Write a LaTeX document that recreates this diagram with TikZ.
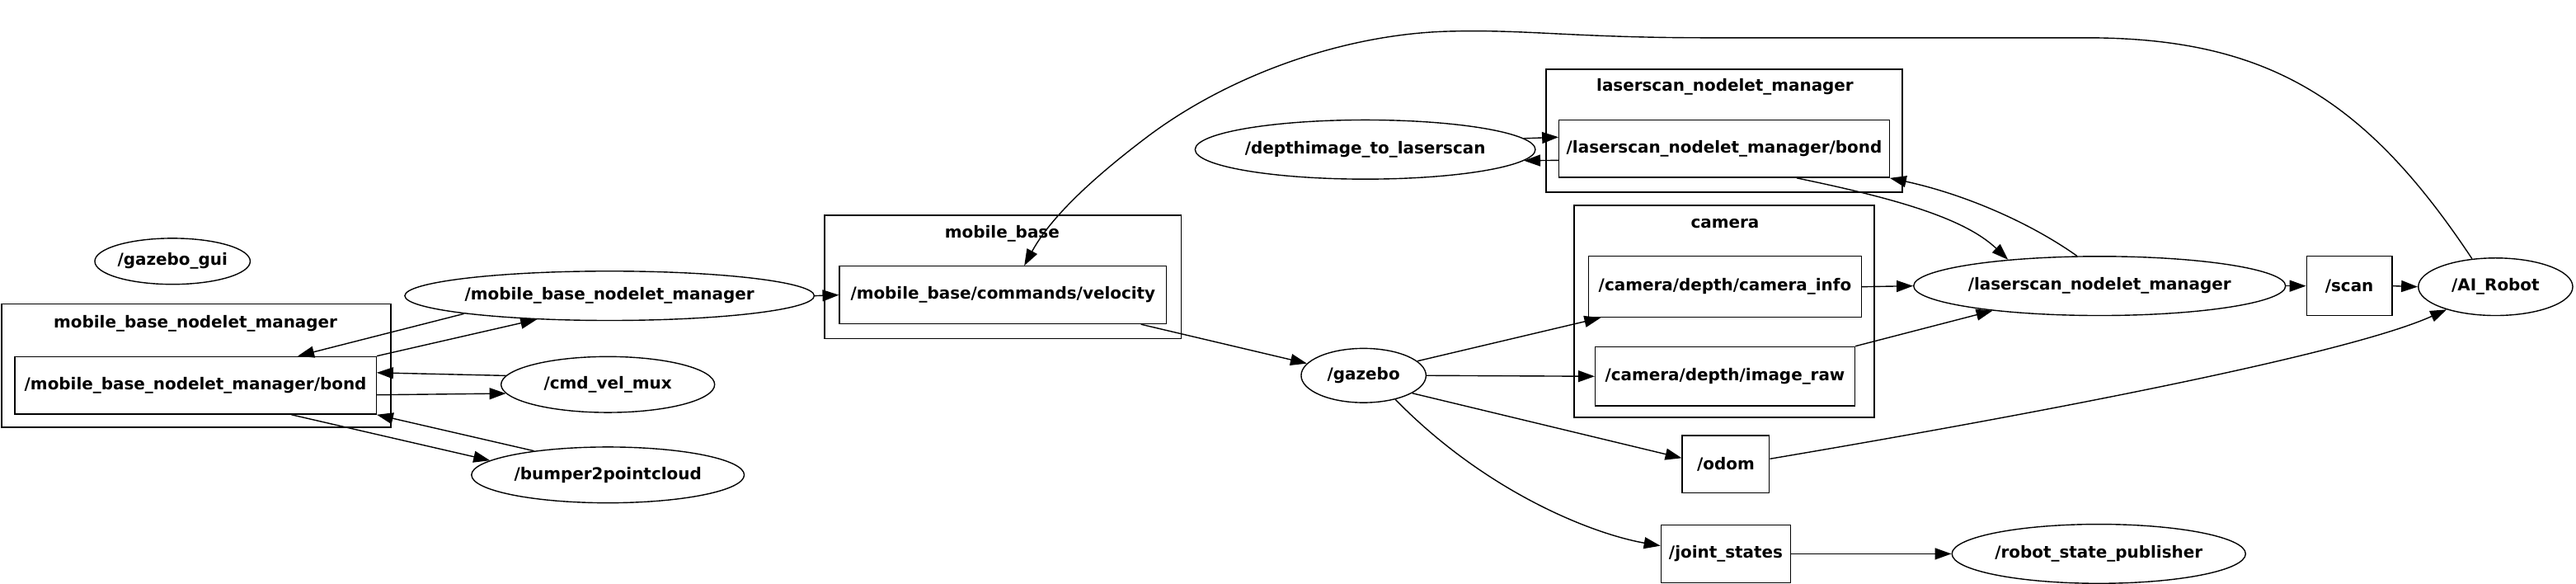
\documentclass[tikz,border=0pt]{standalone}
\usepackage{fontspec}
\setmainfont{DejaVu Sans}
\usetikzlibrary{arrows.meta,shapes.geometric}

\begin{document}
\begin{tikzpicture}[x=1pt,y=-1pt,>={Triangle[length=10pt,width=7pt]},
    font=\bfseries\fontsize{10}{12}\selectfont,
    rosnode/.style={draw,ellipse,line width=0.7pt,inner sep=0pt},
    rostopic/.style={draw,rectangle,line width=0.7pt,inner sep=0pt},
    rosgroup/.style={draw,rectangle,line width=0.9pt,inner sep=0pt},
    link/.style={->,line width=0.7pt}]
    \useasboundingbox (0,0) rectangle (1568,355);
    % groups
    \node[rosgroup,minimum width=237pt,minimum height=75pt] (mbnmgroup) at (119.5,222.5) {};
    \node (mbnmlabel) at (119,197) {mobile\_base\_nodelet\_manager};
    \node[rosgroup,minimum width=217pt,minimum height=75pt] (mbgroup) at (610.5,168.5) {};
    \node (mblabel) at (610,142) {mobile\_base};
    \node[rosgroup,minimum width=217pt,minimum height=75pt] (lsgroup) at (1049.5,79.5) {};
    \node (lslabel) at (1050,53) {laserscan\_nodelet\_manager};
    \node[rosgroup,minimum width=183pt,minimum height=129pt] (camgroup) at (1049.5,189.5) {};
    \node (camlabel) at (1050,136) {camera};
    % nodes and topics
    \node[rosnode,minimum width=80pt,minimum height=28pt] (gazebogui) at (105,159) {/gazebo\_gui};
    \node[rostopic,minimum width=220pt,minimum height=35pt] (mbnmbond) at (119,234.5) {/mobile\_base\_nodelet\_manager/bond};
    \node[rosnode,minimum width=248pt,minimum height=30pt] (mbnm) at (371,180) {/mobile\_base\_nodelet\_manager};
    \node[rosnode,minimum width=130pt,minimum height=34pt] (cmdvelmux) at (370,234) {/cmd\_vel\_mux};
    \node[rosnode,minimum width=166pt,minimum height=34pt] (bumper) at (370,289) {/bumper2pointcloud};
    \node[rostopic,minimum width=199pt,minimum height=35pt] (velocity) at (610.5,179.5) {/mobile\_base/commands/velocity};
    \node[rosnode,minimum width=76pt,minimum height=33pt] (gazebo) at (830,228.5) {/gazebo};
    \node[rosnode,minimum width=206pt,minimum height=36pt] (depthimg) at (831,91) {/depthimage\_to\_laserscan};
    \node[rostopic,minimum width=201pt,minimum height=35pt] (lsbond) at (1049.5,90.5) {/laserscan\_nodelet\_manager/bond};
    \node[rostopic,minimum width=166pt,minimum height=37pt] (caminfo) at (1050,174.5) {/camera/depth/camera\_info};
    \node[rostopic,minimum width=158pt,minimum height=36pt] (imageraw) at (1050,229) {/camera/depth/image\_raw};
    \node[rosnode,minimum width=220pt,minimum height=36pt] (lsnm) at (1278,174) {/laserscan\_nodelet\_manager};
    \node[rostopic,minimum width=52pt,minimum height=36pt] (scan) at (1430,174) {/scan};
    \node[rosnode,minimum width=94pt,minimum height=35pt] (airobot) at (1519,174.5) {/AI\_Robot};
    \node[rostopic,minimum width=53pt,minimum height=35pt] (odom) at (1050.5,282.5) {/odom};
    \node[rostopic,minimum width=79pt,minimum height=35pt] (jointstates) at (1050.5,337) {/joint\_states};
    \node[rosnode,minimum width=177pt,minimum height=36pt] (rsp) at (1277.5,337) {/robot\_state\_publisher};
    % connections
    \draw[link] (mbnmbond.north east) -- (mbnm.198);
    \draw[link] (mbnm.187) -- (mbnmbond.16.5);
    \draw[link] (cmdvelmux.175) -- (mbnmbond.4);
    \draw[link] (mbnmbond.-3.5) -- (cmdvelmux.185);
    \draw[link] (mbnmbond.-17) -- (bumper.173);
    \draw[link] (bumper.162) -- (mbnmbond.south east);
    \draw[link] (mbnm.east) -- (velocity.west);
    \draw[link] (airobot.130) .. controls (1440,60) and (1380,23) .. (1270,23) -- (1040,23)
      .. controls (960,23) and (930,18) .. (885,19)
      .. controls (820,20) and (750,45) .. (700,82)
      .. controls (660,112) and (638,135) .. (velocity.54);
    \draw[link] (velocity.-12) -- (gazebo.168);
    \draw[link] (gazebo.15) -- (caminfo.194);
    \draw[link] (gazebo.east) -- (imageraw.west);
    \draw[link] (gazebo.-20) -- (odom.172);
    \draw[link] (gazebo.-37) .. controls (905,300) and (970,325) .. (jointstates.173);
    \draw[link] (jointstates.east) -- (rsp.west);
    \draw[link] (depthimg.4) -- (lsbond.176.6);
    \draw[link] (lsbond.184.3) -- (depthimg.-4.5);
    \draw[link] (caminfo.east) -- (lsnm.west);
    \draw[link] (imageraw.north east) -- (lsnm.193);
    \draw[link] (lsbond.-22) .. controls (1150,120) and (1195,132) .. (lsnm.164);
    \draw[link] (lsnm.127) .. controls (1235,135) and (1195,118) .. (lsbond.south east);
    \draw[link] (lsnm.east) -- (scan.west);
    \draw[link] (scan.east) -- (airobot.west);
    \draw[link] (odom.7) .. controls (1250,250) and (1430,215) .. (airobot.205);
\end{tikzpicture}
\end{document}
